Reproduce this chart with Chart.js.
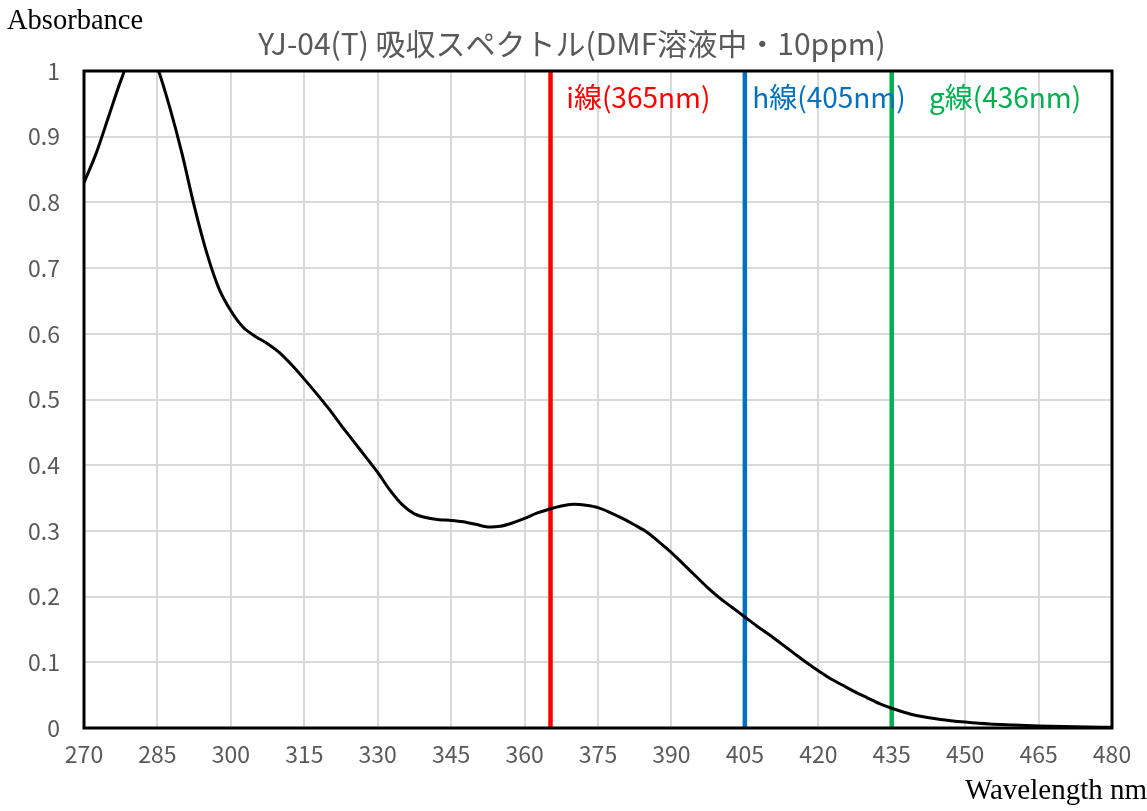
<!DOCTYPE html>
<html lang="ja">
<head>
    <meta charset="UTF-8" />
    <title>YJ-04(T) 吸収スペクトル</title>
    <script src="https://cdn.jsdelivr.net/npm/chart.js"></script>
    <style>
        body { margin: 0; background: #fff; }
        canvas { display: block; }
    </style>
</head>
<body>
    <canvas id="specChart" width="1147" height="811"></canvas>

    <script>
        // absorption spectrum
        const wavelengths = [270, 272.5, 275, 277.5, 280, 282.5, 285, 287.5, 290, 292.5, 295, 297.5,
            300, 302.5, 305, 307.5, 310, 312.5, 315, 317.5, 320, 322.5, 325, 327.5, 330, 332.5, 335,
            337.5, 340, 342.5, 345, 347.5, 350, 352.5, 355, 357.5, 360, 362.5, 365, 367.5, 370, 372.5,
            375, 377.5, 380, 382.5, 385, 387.5, 390, 392.5, 395, 397.5, 400, 402.5, 405, 407.5, 410,
            412.5, 415, 417.5, 420, 422.5, 425, 427.5, 430, 432.5, 435, 437.5, 440, 445, 450, 455,
            460, 465, 470, 475, 480];
        const absorbance = [0.83, 0.875, 0.93, 0.985, 1.03, 1.045, 1.005, 0.945, 0.875, 0.795, 0.725, 0.67,
            0.635, 0.61, 0.596, 0.585, 0.571, 0.552, 0.531, 0.509, 0.486, 0.461, 0.437, 0.413, 0.389, 0.362, 0.34,
            0.326, 0.32, 0.317, 0.316, 0.314, 0.31, 0.306, 0.307, 0.312, 0.319, 0.327, 0.333, 0.338, 0.3405, 0.339,
            0.3355, 0.328, 0.319, 0.309, 0.298, 0.283, 0.267, 0.249, 0.231, 0.213, 0.197, 0.183, 0.169, 0.155, 0.142,
            0.128, 0.114, 0.1, 0.087, 0.075, 0.065, 0.055, 0.046, 0.037, 0.03, 0.024, 0.019, 0.013, 0.009, 0.006,
            0.0045, 0.003, 0.0022, 0.0015, 0.001];

        // exposure lines
        const lineNames = ['i線(365nm)', 'h線(405nm)', 'g線(436nm)'];
        const lineNm = [365.3, 405, 435];
        const lineColors = ['#ff0000', '#0070c0', '#00b050'];

        const xTicks = [270, 285, 300, 315, 330, 345, 360, 375, 390, 405, 420, 435, 450, 465, 480];
        const yTicks = [0, 0.1, 0.2, 0.3, 0.4, 0.5, 0.6, 0.7, 0.8, 0.9, 1];

        const sans = "'Noto Sans CJK JP', 'Noto Sans', sans-serif";
        const serif = "'Liberation Serif', 'DejaVu Serif', serif";

        const spectrum = wavelengths.map((w, i) => ({ x: w, y: absorbance[i] }));

        const datasets = [{
            label: 'Absorbance',
            data: spectrum,
            borderColor: '#000',
            borderWidth: 3,
            pointRadius: 0,
            tension: 0.3,
            fill: false
        }];
        lineNm.forEach((nm, i) => {
            datasets.push({
                label: lineNames[i],
                data: [{ x: nm, y: 0 }, { x: nm, y: 1 }],
                borderColor: lineColors[i],
                borderWidth: 4.5,
                pointRadius: 0,
                tension: 0,
                fill: false
            });
        });

        // title, axis names, frame and line labels
        const decor = {
            id: 'decor',
            afterDatasetsDraw(chart) {
                const { ctx, chartArea: a, scales } = chart;
                ctx.save();
                ctx.strokeStyle = '#000';
                ctx.lineWidth = 3;
                ctx.strokeRect(a.left, a.top, a.right - a.left, a.bottom - a.top);

                ctx.textBaseline = 'middle';
                ctx.font = '28px ' + sans;
                const labelAt = [368.5, 406.5, 442.6];
                lineNames.forEach((name, i) => {
                    ctx.fillStyle = lineColors[i];
                    ctx.textAlign = 'left';
                    ctx.fillText(name, scales.x.getPixelForValue(labelAt[i]), a.top + 26);
                });
                ctx.restore();
            },
            afterDraw(chart) {
                const { ctx } = chart;
                ctx.save();
                ctx.textBaseline = 'middle';
                ctx.fillStyle = '#595959';
                ctx.font = '30px ' + sans;
                ctx.textAlign = 'center';
                ctx.fillText('YJ-04(T) 吸収スペクトル(DMF溶液中・10ppm)', 572, 44);

                ctx.fillStyle = '#000';
                ctx.font = '28.5px ' + serif;
                ctx.textAlign = 'left';
                ctx.fillText('Absorbance', 7, 22);
                ctx.font = '29px ' + serif;
                ctx.textAlign = 'right';
                ctx.fillText('Wavelength nm', 1147, 791);
                ctx.restore();
            }
        };

        new Chart(document.getElementById('specChart'), {
            type: 'line',
            data: { datasets },
            options: {
                responsive: false,
                animation: false,
                devicePixelRatio: 1,
                layout: { padding: { left: 0, top: 71, right: 35, bottom: 0 } },
                plugins: {
                    legend: { display: false },
                    title: { display: false },
                    tooltip: { enabled: false }
                },
                scales: {
                    x: {
                        type: 'linear',
                        min: 270,
                        max: 480,
                        afterBuildTicks: s => { s.ticks = xTicks.map(v => ({ value: v })); },
                        afterFit: s => { s.height = 83; },
                        grid: { color: '#d9d9d9', lineWidth: 2, drawTicks: false },
                        border: { display: false },
                        ticks: {
                            color: '#595959',
                            font: { family: sans, size: 23 },
                            padding: 12,
                            maxRotation: 0
                        }
                    },
                    y: {
                        min: 0,
                        max: 1,
                        afterBuildTicks: s => { s.ticks = yTicks.map(v => ({ value: v })); },
                        afterFit: s => { s.width = 84; },
                        grid: { color: '#d9d9d9', lineWidth: 2, drawTicks: false },
                        border: { display: false },
                        ticks: {
                            color: '#595959',
                            font: { family: sans, size: 23 },
                            padding: 24,
                            callback: v => String(Math.round(v * 10) / 10)
                        }
                    }
                }
            },
            plugins: [decor]
        });
    </script>
</body>
</html>
